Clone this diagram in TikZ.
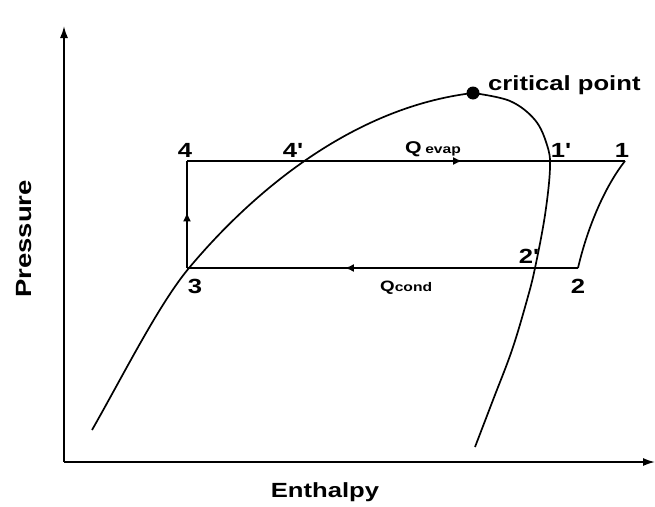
\documentclass[tikz,border=0pt]{standalone}
\usepackage{fontspec}
\setmainfont{Liberation Sans}
\usetikzlibrary{arrows.meta,decorations.markings}
\newcommand{\stretchtxt}[1]{\scalebox{1.25}[1]{#1}}

\begin{document}
\begin{tikzpicture}[x=1pt,y=-1pt,
  lbl/.style={font=\bfseries\fontsize{20.5}{24}\selectfont, inner sep=0pt, anchor=base},
  qlbl/.style={font=\bfseries\fontsize{17}{20}\selectfont, inner sep=0pt, anchor=base west},
  curve/.style={line width=1.7pt},
  axis/.style={line width=1.7pt, -{Latex[length=12pt,width=8pt]}},
  flow/.style={line width=1.7pt, postaction={decorate},
    decoration={markings, mark=at position #1 with {\arrow{Latex[length=9pt,width=8pt]}}}}]
\useasboundingbox (0,0) rectangle (655,506);

\coordinate (O) at (64,462);
\coordinate (ytop) at (64,26);
\coordinate (xend) at (655,462);
\coordinate (cp) at (473,93);
\coordinate (s1) at (625,161);
\coordinate (s2) at (578,268);
\coordinate (s3) at (187,268);
\coordinate (s4) at (187,161);
\coordinate (liq) at (92,430);
\coordinate (vap) at (475,447);

%Axes
\draw[axis] (O) -- (ytop);
\draw[axis] (O) -- (xend);
\node[lbl, font=\bfseries\fontsize{22}{26}\selectfont, rotate=90] (pres) at (31,239) {\stretchtxt{Pressure}};
\node[lbl] (enth) at (325,497) {\stretchtxt{Enthalpy}};

%Saturation dome
\draw[curve] (liq) .. controls (125,372) and (159,304) .. (189,268)
  .. controls (225,225) and (330,110) .. (cp);
\draw[curve] plot[smooth, tension=0.6] coordinates {(cp) (510,101) (535,120) (547,145) (550,168) (545,215) (535,268) (527,300) (512,350) (493,400) (vap)};
\fill (cp) circle (6.5);
\node[lbl, anchor=base west] (crit) at (488,90) {\stretchtxt{critical point}};

%Cycle
\draw[flow=0.628] (s4) -- (s1);
\draw[curve] (s1) .. controls (606,185) and (588,225) .. (s2);
\draw[flow=0.596] (s2) -- (s3);
\draw[flow=0.52] (s3) -- (s4);

\node[lbl] (l4) at (185,157) {\stretchtxt{4}};
\node[lbl] (l4p) at (293,157) {\stretchtxt{4\textquotesingle}};
\node[lbl] (l1p) at (561,157) {\stretchtxt{1\textquotesingle}};
\node[lbl] (l1) at (622,157) {\stretchtxt{1}};
\node[lbl] (l2p) at (529,263) {\stretchtxt{2\textquotesingle}};
\node[lbl] (l2) at (578,293) {\stretchtxt{2}};
\node[lbl] (l3) at (195,293) {\stretchtxt{3}};
\node[qlbl] (qevap) at (405,153) {\stretchtxt{Q\,\fontsize{12.5}{14}\selectfont evap}};
\node[qlbl, font=\bfseries\fontsize{15}{18}\selectfont] (qcond) at (380,291) {\stretchtxt{Q\fontsize{12.5}{14}\selectfont cond}};
\end{tikzpicture}
\end{document}
